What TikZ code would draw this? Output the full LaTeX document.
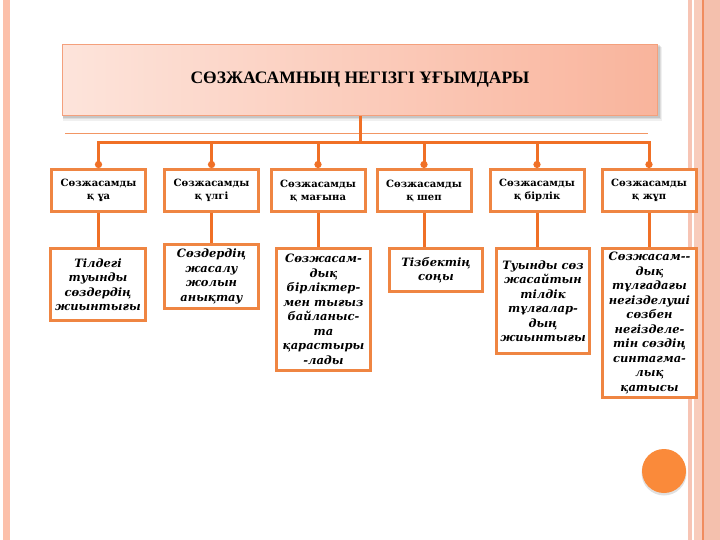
\documentclass[tikz,border=0pt]{standalone}
\usepackage{fontspec}
\setmainfont{DejaVu Serif}
\newfontfamily\titlefont{Liberation Serif}
\usetikzlibrary{arrows.meta}
\definecolor{boxor}{RGB}{239,133,66}
\definecolor{lineor}{RGB}{240,112,38}
\definecolor{stripeL}{RGB}{252,192,170}
\definecolor{stripeRa}{RGB}{247,196,180}
\definecolor{stripeRb}{RGB}{248,204,188}
\definecolor{stripeRc}{RGB}{240,140,95}
\definecolor{stripeRd}{RGB}{244,192,173}
\definecolor{titleL}{RGB}{253,228,219}
\definecolor{titleM}{RGB}{250,190,166}
\definecolor{titleR}{RGB}{249,180,156}
\definecolor{titleborder}{RGB}{244,160,124}
\definecolor{thinor}{RGB}{242,150,100}
\definecolor{circor}{RGB}{250,138,58}
\begin{document}
\begin{tikzpicture}[x=1pt,y=-1pt,
  topbox/.style={draw=boxor, line width=3pt, fill=white, minimum width=94pt, minimum height=42pt,
    inner sep=1pt, align=center, font=\bfseries\fontsize{10}{13}\selectfont},
  botbox/.style={draw=boxor, line width=3pt, fill=white, inner sep=1pt, align=center,
    font=\bfseries\itshape\fontsize{11.5}{14.5}\selectfont},
  conn/.style={draw=lineor, line width=3pt},
  dotconn/.style={conn, -{Circle[length=7pt,width=7pt]}},
  thinline/.style={draw=thinor, line width=0.8pt},
]
\useasboundingbox (0,0) rectangle (720,540);
\fill[white] (0,0) rectangle (720,540);
% side decorations
\fill[stripeL] (3,0) rectangle (9.5,540);
\fill[stripeRa] (688,0) rectangle (692,540);
\fill[stripeRb] (694,0) rectangle (702,540);
\fill[stripeRc] (702,0) rectangle (703.5,540);
\fill[stripeRd] (703.5,0) rectangle (720,540);
% title shadow
\fill[black,opacity=0.06] (63,47) rectangle (662,121);
\fill[black,opacity=0.08] (63,46) rectangle (661,119.5);
\fill[black,opacity=0.10] (63,45) rectangle (660,118);
% title
\node[draw=titleborder, line width=1pt, left color=titleL, middle color=titleM, right color=titleR,
  minimum width=595pt, minimum height=71pt, inner sep=0pt,
  font=\titlefont\bfseries\fontsize{17.5}{20}\selectfont] (title) at (360,80)
  {\raisebox{-2pt}{СӨЗЖАСАМНЫҢ НЕГІЗГІ ҰҒЫМДАРЫ}};
% thin rule
\draw[thinline] (65,133.5) -- (648,133.5);
% top boxes
\node[topbox] (t1) at (98.5,190.5) {Сөзжасамды\\қ ұа};
\node[topbox] (t2) at (211.5,190.5) {Сөзжасамды\\қ үлгі};
\node[topbox] (t3) at (318,190.5) {Сөзжасамды\\қ мағына};
\node[topbox] (t4) at (424,190.5) {Сөзжасамды\\қ шеп};
\node[topbox] (t5) at (537,190.5) {Сөзжасамды\\қ бірлік};
\node[topbox] (t6) at (649,190.5) {Сөзжасамды\\қ жұп};
% bottom boxes
\node[botbox, minimum width=95pt, minimum height=72pt] (b1) at (98,284.5)
  {Тілдегі\\туынды\\сөздердің\\жиынтығы};
\node[botbox, minimum width=94pt, minimum height=64pt] (b2) at (211.5,276.5)
  {Сөздердің\\жасалу\\жолын\\анықтау};
\node[botbox, minimum width=94pt, minimum height=122pt] (b3) at (323.5,309.5)
  {Сөзжасам-\\дық\\бірліктер-\\мен тығыз\\байланыс-\\та\\қарастыры\\-лады};
\node[botbox, minimum width=93pt, minimum height=43pt] (b4) at (436,270)
  {Тізбектің\\соңы};
\node[botbox, minimum width=93pt, minimum height=105pt] (b5) at (543,301)
  {Туынды сөз\\жасайтын\\тілдік\\тұлғалар-\\дың\\жиынтығы};
\node[botbox, minimum width=94pt, minimum height=149pt] (b6) at (649.5,323)
  {Сөзжасам-{}-\\дық\\тұлғадағы\\негізделуші\\сөзбен\\негізделе-\\тін сөздің\\синтагма-\\лық\\қатысы};
% connectors
\coordinate (bus) at ([yshift=-26.5pt]title.south);
\draw[conn] (title.south) -- (bus);
\foreach \i in {1,...,6}{
  \draw[dotconn] (bus) -| (t\i.north);
  \draw[conn] (t\i.south) -- (t\i.south |- b\i.north);
}
% circle
\fill[black,opacity=0.12] (664,473) circle (22.5);
\fill[circor] (664,471) circle (22);
\end{tikzpicture}
\end{document}
